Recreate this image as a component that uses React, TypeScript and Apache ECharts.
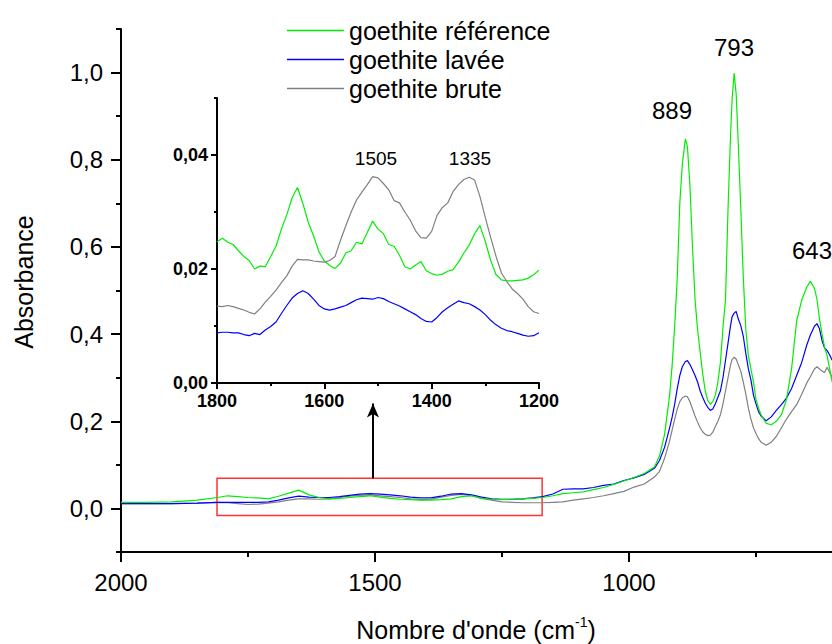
import React, { useEffect, useRef } from 'react';
import * as echarts from 'echarts';

const FONT = "'Liberation Sans', Arial, sans-serif";

const seriesNames = ['goethite référence', 'goethite lavée', 'goethite brute'];
const seriesColors = ['#00ee00', '#0000ff', '#808080'];

// main spectrum (cm-1)
const wavenumbers = [
  2000, 1950, 1900, 1850, 1810, 1790, 1770, 1750, 1730, 1710,
  1690, 1670, 1650, 1630, 1610, 1590, 1570, 1550, 1530, 1510,
  1490, 1470, 1450, 1430, 1410, 1390, 1370, 1350, 1330, 1310,
  1290, 1270, 1250, 1230, 1210, 1190, 1170, 1150, 1130, 1110,
  1090, 1070, 1050, 1030, 1010, 990, 970, 950, 940, 930,
  920, 915, 910, 905, 900, 895, 889, 885, 880, 875,
  870, 865, 860, 855, 850, 845, 840, 835, 830, 825,
  820, 815, 810, 805, 800, 797, 793, 789, 785, 780,
  775, 770, 765, 760, 755, 750, 745, 740, 730, 720,
  710, 700, 690, 680, 670, 660, 650, 643, 635, 630,
  625, 620, 615, 610, 605, 600,
];
const referenceMain = [
  0.014, 0.014, 0.015, 0.019, 0.025, 0.029, 0.027, 0.025, 0.024, 0.022,
  0.028, 0.035, 0.042, 0.031, 0.025, 0.022, 0.023, 0.025, 0.027, 0.029,
  0.026, 0.023, 0.021, 0.020, 0.019, 0.019, 0.020, 0.022, 0.027, 0.029,
  0.023, 0.021, 0.020, 0.021, 0.022, 0.023, 0.025, 0.029, 0.034, 0.036,
  0.038, 0.043, 0.048, 0.055, 0.063, 0.071, 0.080, 0.095, 0.120, 0.170,
  0.260, 0.330, 0.420, 0.530, 0.700, 0.790, 0.848, 0.830, 0.740, 0.600,
  0.480, 0.410, 0.360, 0.310, 0.270, 0.248, 0.239, 0.245, 0.260, 0.290,
  0.335, 0.415, 0.480, 0.690, 0.860, 0.940, 0.999, 0.950, 0.840, 0.690,
  0.530, 0.410, 0.350, 0.320, 0.290, 0.250, 0.230, 0.215, 0.195, 0.192,
  0.200, 0.215, 0.250, 0.320, 0.430, 0.478, 0.508, 0.521, 0.505, 0.480,
  0.435, 0.400, 0.370, 0.350, 0.320, 0.290,
];
const laveeMain = [
  0.011, 0.011, 0.011, 0.012, 0.014, 0.014, 0.014, 0.014, 0.014, 0.015,
  0.019, 0.024, 0.028, 0.026, 0.025, 0.025, 0.027, 0.030, 0.033, 0.034,
  0.033, 0.031, 0.029, 0.026, 0.024, 0.024, 0.028, 0.033, 0.034, 0.031,
  0.026, 0.022, 0.021, 0.021, 0.022, 0.024, 0.027, 0.033, 0.044, 0.045,
  0.045, 0.048, 0.053, 0.056, 0.064, 0.070, 0.078, 0.092, 0.110, 0.140,
  0.185, 0.210, 0.240, 0.275, 0.305, 0.325, 0.337, 0.339, 0.330, 0.318,
  0.305, 0.290, 0.270, 0.255, 0.242, 0.232, 0.225, 0.228, 0.240, 0.255,
  0.270, 0.300, 0.340, 0.380, 0.420, 0.440, 0.448, 0.452, 0.435, 0.420,
  0.395, 0.355, 0.320, 0.295, 0.260, 0.240, 0.222, 0.212, 0.201, 0.210,
  0.225, 0.238, 0.253, 0.275, 0.305, 0.335, 0.375, 0.398, 0.418, 0.424,
  0.412, 0.385, 0.368, 0.362, 0.352, 0.340,
];
const bruteMain = [
  0.011, 0.011, 0.011, 0.012, 0.014, 0.013, 0.011, 0.009, 0.010, 0.012,
  0.015, 0.019, 0.022, 0.022, 0.021, 0.022, 0.025, 0.028, 0.030, 0.031,
  0.029, 0.027, 0.025, 0.022, 0.020, 0.021, 0.026, 0.030, 0.032, 0.029,
  0.023, 0.019, 0.015, 0.014, 0.013, 0.013, 0.013, 0.014, 0.015, 0.019,
  0.022, 0.025, 0.029, 0.034, 0.039, 0.049, 0.056, 0.072, 0.085, 0.115,
  0.155, 0.180, 0.205, 0.228, 0.245, 0.254, 0.258, 0.256, 0.245, 0.228,
  0.212, 0.198, 0.185, 0.176, 0.170, 0.167, 0.168, 0.175, 0.188, 0.200,
  0.215, 0.240, 0.270, 0.300, 0.330, 0.342, 0.347, 0.343, 0.330, 0.315,
  0.290, 0.262, 0.230, 0.205, 0.185, 0.172, 0.160, 0.152, 0.145, 0.152,
  0.165, 0.185, 0.205, 0.222, 0.238, 0.262, 0.288, 0.302, 0.320, 0.325,
  0.320, 0.315, 0.312, 0.324, 0.312, 0.300,
];

// inset spectrum 1800-1200 cm-1
const insetWavenumbers = [
  1800, 1790, 1780, 1770, 1760, 1750, 1740, 1730, 1720, 1710,
  1700, 1690, 1680, 1670, 1660, 1650, 1640, 1630, 1620, 1610,
  1600, 1590, 1580, 1570, 1560, 1550, 1540, 1530, 1520, 1510,
  1500, 1490, 1480, 1470, 1460, 1450, 1440, 1430, 1420, 1410,
  1400, 1390, 1380, 1370, 1360, 1350, 1340, 1330, 1320, 1310,
  1300, 1290, 1280, 1270, 1260, 1250, 1240, 1230, 1220, 1210,
  1200,
];
const referenceInset = [
  0.0248, 0.0254, 0.0247, 0.0243, 0.0232, 0.0222, 0.0215, 0.0200, 0.0205, 0.0204,
  0.0222, 0.0240, 0.0270, 0.0295, 0.0325, 0.0343, 0.0315, 0.0282, 0.0258, 0.0230,
  0.0214, 0.0206, 0.0201, 0.0210, 0.0228, 0.0232, 0.0247, 0.0244, 0.0264, 0.0284,
  0.0270, 0.0262, 0.0243, 0.0240, 0.0224, 0.0204, 0.0200, 0.0207, 0.0213, 0.0197,
  0.0192, 0.0189, 0.0191, 0.0196, 0.0199, 0.0212, 0.0228, 0.0242, 0.0262, 0.0276,
  0.0248, 0.0215, 0.0190, 0.0181, 0.0179, 0.0179, 0.0180, 0.0181, 0.0184, 0.0190,
  0.0198,
];
const laveeInset = [
  0.0088, 0.0089, 0.0089, 0.0088, 0.0088, 0.0085, 0.0083, 0.0087, 0.0085, 0.0093,
  0.0099, 0.0107, 0.0122, 0.0136, 0.0149, 0.0157, 0.0162, 0.0157, 0.0147, 0.0136,
  0.0130, 0.0128, 0.0130, 0.0133, 0.0136, 0.0141, 0.0146, 0.0149, 0.0148, 0.0147,
  0.0150, 0.0148, 0.0143, 0.0139, 0.0135, 0.0130, 0.0125, 0.0120, 0.0113, 0.0108,
  0.0107, 0.0115, 0.0125, 0.0132, 0.0138, 0.0144, 0.0141, 0.0139, 0.0134, 0.0128,
  0.0120, 0.0110, 0.0102, 0.0096, 0.0092, 0.0090, 0.0087, 0.0084, 0.0082, 0.0083,
  0.0088,
];
const bruteInset = [
  0.0135, 0.0134, 0.0136, 0.0134, 0.0131, 0.0128, 0.0124, 0.0121, 0.0130, 0.0142,
  0.0152, 0.0163, 0.0176, 0.0188, 0.0205, 0.0217, 0.0216, 0.0216, 0.0214, 0.0213,
  0.0212, 0.0215, 0.0222, 0.0250, 0.0276, 0.0300, 0.0321, 0.0335, 0.0348, 0.0362,
  0.0360, 0.0350, 0.0339, 0.0320, 0.0316, 0.0300, 0.0286, 0.0267, 0.0255, 0.0254,
  0.0266, 0.0294, 0.0308, 0.0316, 0.0336, 0.0348, 0.0357, 0.0361, 0.0356, 0.0327,
  0.0290, 0.0255, 0.0222, 0.0193, 0.0178, 0.0165, 0.0157, 0.0147, 0.0134, 0.0125,
  0.0122,
];

// ticks
const mainMajorX = [2000, 1500, 1000, 500];
const mainLabelX = [2000, 1500, 1000];
const mainMinorX = [1750, 1250, 750];
const mainMajorY = [0, 0.2, 0.4, 0.6, 0.8, 1.0];
const mainMinorY = [-0.1, 0.1, 0.3, 0.5, 0.7, 0.9, 1.1];
const insetMajorX = [1800, 1600, 1400, 1200];
const insetMinorX = [1700, 1500, 1300];
const insetMajorY = [0, 0.02, 0.04];
const insetMinorY = [0.01, 0.03, 0.05];

// zoom box (cm-1, absorbance) and arrow
const zoomBoxX = [1811, 1171];
const zoomBoxY = [-0.016, 0.069];
const arrowX = 1504;
const arrowY = [0.069, 0.241];

const zip = (xs: number[], ys: number[]) => xs.map((x, i) => [x, ys[i]]);

const tickStyle = { color: '#000', width: 2 };

function majorAxis(grid: number, pos: string, min: number, max: number, major: number[], labels: number[], len: number, fmt: (v: number) => string, labelStyle: any, inverse = false) {
  return {
    type: 'value', gridIndex: grid, position: pos, min, max, inverse,
    axisLine: { show: true, onZero: false, lineStyle: tickStyle },
    axisTick: { show: true, customValues: major, length: len, lineStyle: tickStyle },
    axisLabel: { show: true, customValues: labels, formatter: fmt, color: '#000', fontFamily: FONT, ...labelStyle },
    splitLine: { show: false },
  };
}
function minorAxis(grid: number, pos: string, min: number, max: number, minor: number[], len: number, inverse = false) {
  return {
    type: 'value', gridIndex: grid, position: pos, min, max, inverse,
    axisLine: { show: false, onZero: false },
    axisTick: { show: true, customValues: minor, length: len, lineStyle: tickStyle },
    axisLabel: { show: false },
    splitLine: { show: false },
  };
}

export default function App() {
  const ref = useRef<HTMLDivElement>(null);
  useEffect(() => {
    if (!ref.current) return;
    const chart = echarts.init(ref.current, undefined, { renderer: 'svg' });
    const mainData = [referenceMain, laveeMain, bruteMain];
    const insetData = [referenceInset, laveeInset, bruteInset];
    const series: any[] = [];
    mainData.forEach((vals, i) => {
      series.push({
        name: seriesNames[i], type: 'line', xAxisIndex: 0, yAxisIndex: 0,
        data: zip(wavenumbers, vals), showSymbol: false, symbol: 'none',
        lineStyle: { color: seriesColors[i], width: 1.2 }, itemStyle: { color: seriesColors[i] },
        z: 2 + (2 - i),
      });
    });
    insetData.forEach((vals, i) => {
      series.push({
        name: seriesNames[i], type: 'line', xAxisIndex: 2, yAxisIndex: 2,
        data: zip(insetWavenumbers, vals), showSymbol: false, symbol: 'none',
        lineStyle: { color: seriesColors[i], width: 1.2 }, itemStyle: { color: seriesColors[i] },
        z: 3,
      });
    });
    series[0].markArea = {
      silent: true,
      itemStyle: { color: 'rgba(0,0,0,0)', borderColor: '#ff3333', borderWidth: 1.5 },
      data: [[{ coord: [zoomBoxX[0], zoomBoxY[0]] }, { coord: [zoomBoxX[1], zoomBoxY[1]] }]],
    };
    series[0].markLine = {
      silent: true, symbol: ['none', 'arrow'], symbolSize: [9, 14],
      lineStyle: { color: '#000', width: 2, type: 'solid' }, label: { show: false },
      data: [[{ coord: [arrowX, arrowY[0]] }, { coord: [arrowX, arrowY[1]] }]],
    };

    const f1 = (v: number) => v.toFixed(1).replace('.', ',');
    const f2 = (v: number) => v.toFixed(2).replace('.', ',');
    const f0 = (v: number) => String(Math.round(v));
    const mainLbl = { fontSize: 24, margin: 18 };
    const insetLbl = { fontSize: 18, fontWeight: 'bold', margin: 9 };

    chart.setOption({
      animation: false,
      backgroundColor: '#fff',
      grid: [
        { left: 121, top: 29, width: 762, height: 523, outerBoundsMode: 'none', containLabel: false },
        { left: 217, top: 98, width: 322, height: 285, outerBoundsMode: 'none', containLabel: false },
      ],
      xAxis: [
        majorAxis(0, 'bottom', 500, 2000, mainMajorX, mainLabelX, 10, f0, mainLbl, true),
        minorAxis(0, 'bottom', 500, 2000, mainMinorX, 5, true),
        majorAxis(1, 'bottom', 1200, 1800, insetMajorX, insetMajorX, 6, f0, insetLbl, true),
        minorAxis(1, 'bottom', 1200, 1800, insetMinorX, 3, true),
      ],
      yAxis: [
        majorAxis(0, 'left', -0.1, 1.1, mainMajorY, mainMajorY, 10, f1, mainLbl),
        minorAxis(0, 'left', -0.1, 1.1, mainMinorY, 5),
        majorAxis(1, 'left', 0, 0.05, insetMajorY, insetMajorY, 6, f2, insetLbl),
        minorAxis(1, 'left', 0, 0.05, insetMinorY, 3),
      ],
      legend: {
        orient: 'vertical', left: 282, top: 13, icon: 'rect', itemWidth: 57, itemHeight: 1.5, itemGap: 4,
        selectedMode: false, data: seriesNames,
        textStyle: { fontSize: 25, color: '#000', fontFamily: FONT },
      },
      graphic: [
        { type: 'text', x: 24, y: 282, rotation: Math.PI / 2, style: { text: 'Absorbance', fontSize: 25, fontFamily: FONT, fill: '#000', align: 'center', verticalAlign: 'middle' } },
        {
          type: 'text', x: 476, y: 630,
          style: {
            text: "{n|Nombre d'onde (cm}{s|-1}{n|)}", align: 'center', verticalAlign: 'middle', fill: '#000',
            rich: { n: { fontSize: 25, fontFamily: FONT, fill: '#000', lineHeight: 30 }, s: { fontSize: 14, fontFamily: FONT, fill: '#000', lineHeight: 14, verticalAlign: 'top' } },
          },
        },
        { type: 'text', x: 672, y: 110, style: { text: '889', fontSize: 24, fontFamily: FONT, fill: '#000', align: 'center', verticalAlign: 'middle' } },
        { type: 'text', x: 734, y: 47, style: { text: '793', fontSize: 24, fontFamily: FONT, fill: '#000', align: 'center', verticalAlign: 'middle' } },
        { type: 'text', x: 792, y: 250, style: { text: '643', fontSize: 24, fontFamily: FONT, fill: '#000', align: 'left', verticalAlign: 'middle' } },
        { type: 'text', x: 376, y: 158, style: { text: '1505', fontSize: 19, fontFamily: FONT, fill: '#000', align: 'center', verticalAlign: 'middle' } },
        { type: 'text', x: 470, y: 158, style: { text: '1335', fontSize: 19, fontFamily: FONT, fill: '#000', align: 'center', verticalAlign: 'middle' } },
      ],
      series,
    });
    return () => chart.dispose();
  }, []);
  return <div ref={ref} style={{ position: 'fixed', left: 0, top: 0, width: 832, height: 644 }} />;
}
